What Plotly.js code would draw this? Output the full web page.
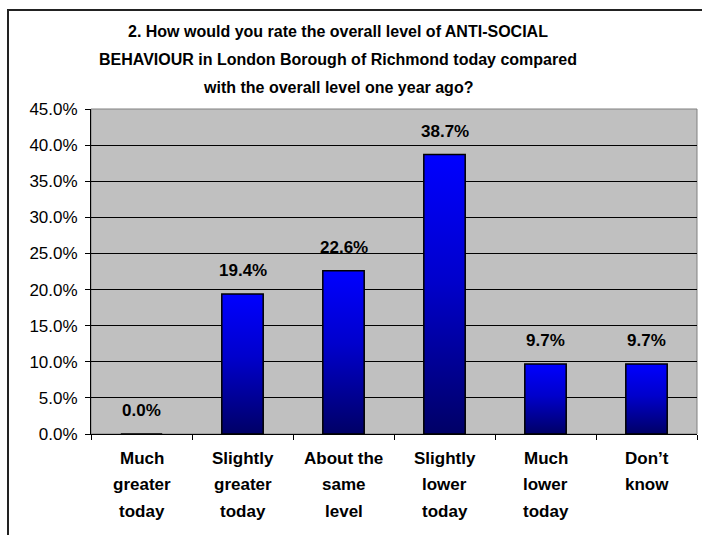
<!DOCTYPE html>
<html>
<head>
<meta charset="utf-8">
<script src="https://cdn.plot.ly/plotly-3.0.1.min.js"></script>
<style>
  html, body { margin: 0; padding: 0; background: #ffffff; }
  #wrap { position: relative; width: 702px; height: 535px; overflow: hidden; }
  #chart { width: 702px; height: 535px; }
  #frame { position: absolute; left: 7px; top: 9px; width: 720px; height: 560px;
           border-left: 2px solid #222; border-top: 2px solid #222; pointer-events: none; }
</style>
</head>
<body>
<div id="wrap">
  <div id="chart"></div>
  <div id="frame"></div>
</div>
<script>
// ---- data ----
const categories = ["Much greater today", "Slightly greater today", "About the same level",
                    "Slightly lower today", "Much lower today", "Don\u2019t know"];
const categoryLines = [
  ["Much", "greater", "today"],
  ["Slightly", "greater", "today"],
  ["About the", "same", "level"],
  ["Slightly", "lower", "today"],
  ["Much", "lower", "today"],
  ["Don\u2019t", "know"]
];
const values = [0.0, 0.194, 0.226, 0.387, 0.097, 0.097];
const valueLabels = ["0.0%", "19.4%", "22.6%", "38.7%", "9.7%", "9.7%"];
const titleLines = [
  "2. How would you rate the overall level of ANTI-SOCIAL",
  "BEHAVIOUR in London Borough of Richmond today compared",
  "with the overall level one year ago?"
];
const tickVals = [0, 0.05, 0.10, 0.15, 0.20, 0.25, 0.30, 0.35, 0.40, 0.45];

// ---- figure ----
const FONT = "Liberation Sans, Arial, sans-serif";
const annotations = [];

// value labels above bars
categories.forEach((c, i) => {
  annotations.push({
    x: c, y: values[i], xref: "x", yref: "y",
    text: "<b>" + valueLabels[i] + "</b>", showarrow: false,
    yanchor: "bottom", yshift: 12,
    font: { family: FONT, size: 17, color: "#000" }
  });
});

// category labels, one annotation per line for Excel-like spacing
categories.forEach((c, i) => {
  categoryLines[i].forEach((ln, j) => {
    annotations.push({
      x: c, y: 0, xref: "x", yref: "paper",
      text: "<b>" + ln + "</b>", showarrow: false,
      yanchor: "middle", yshift: -24 - 26.5 * j,
      font: { family: FONT, size: 17, color: "#000" }
    });
  });
});

// title lines (plot area spans 109..434 px vertically)
titleLines.forEach((ln, j) => {
  annotations.push({
    x: 0.4076, y: (434 - (32 + 27.5 * j)) / 325, xref: "paper", yref: "paper",
    text: "<b>" + ln + "</b>", showarrow: false,
    xanchor: "center", yanchor: "middle",
    font: { family: FONT, size: 16, color: "#000" }
  });
});

const trace = {
  type: "bar",
  x: categories,
  y: values,
  marker: { color: "#0000FF", line: { color: "#000000", width: 1.5 } },
  hoverinfo: "none"
};

const layout = {
  width: 702, height: 535,
  margin: { l: 91, r: 5, t: 109, b: 101 },
  paper_bgcolor: "#ffffff",
  plot_bgcolor: "#C0C0C0",
  bargap: 0.59,
  showlegend: false,
  font: { family: FONT, size: 17, color: "#000" },
  xaxis: {
    type: "category",
    showticklabels: false,
    ticks: "outside", tickson: "boundaries", ticklen: 5, tickcolor: "#000", tickwidth: 1,
    showline: true, linecolor: "#000", linewidth: 1,
    showgrid: false, zeroline: false, fixedrange: true
  },
  yaxis: {
    range: [0, 0.45],
    tickvals: tickVals,
    tickformat: ".1%",
    ticks: "outside", ticklen: 5, tickcolor: "#000", tickwidth: 1,
    ticklabelstandoff: 4,
    tickfont: { family: FONT, size: 17, color: "#000" },
    showline: true, linecolor: "#000", linewidth: 1,
    showgrid: true, gridcolor: "#000", gridwidth: 1,
    zeroline: false, fixedrange: true
  },
  shapes: [{
    type: "rect", xref: "paper", yref: "paper", x0: 0, x1: 1, y0: 0, y1: 1,
    line: { color: "#808080", width: 1 }, layer: "below"
  }],
  annotations: annotations
};

Plotly.newPlot("chart", [trace], layout, { staticPlot: true, displayModeBar: false }).then(gd => {
  // vertical blue-to-navy gradient on bars
  const svg = gd.querySelector("svg.main-svg");
  const ns = "http://www.w3.org/2000/svg";
  let defs = svg.querySelector("defs");
  if (!defs) { defs = document.createElementNS(ns, "defs"); svg.insertBefore(defs, svg.firstChild); }
  const lg = document.createElementNS(ns, "linearGradient");
  lg.setAttribute("id", "barGrad");
  lg.setAttribute("x1", "0"); lg.setAttribute("y1", "0");
  lg.setAttribute("x2", "0"); lg.setAttribute("y2", "1");
  [["0%", "#0000FF"], ["45%", "#0000CC"], ["100%", "#000066"]].forEach(([o, c]) => {
    const s = document.createElementNS(ns, "stop");
    s.setAttribute("offset", o); s.setAttribute("stop-color", c);
    lg.appendChild(s);
  });
  defs.appendChild(lg);
  gd.querySelectorAll(".bars .point path").forEach(p => {
    p.style.fill = "url(#barGrad)";
  });
});
</script>
</body>
</html>
